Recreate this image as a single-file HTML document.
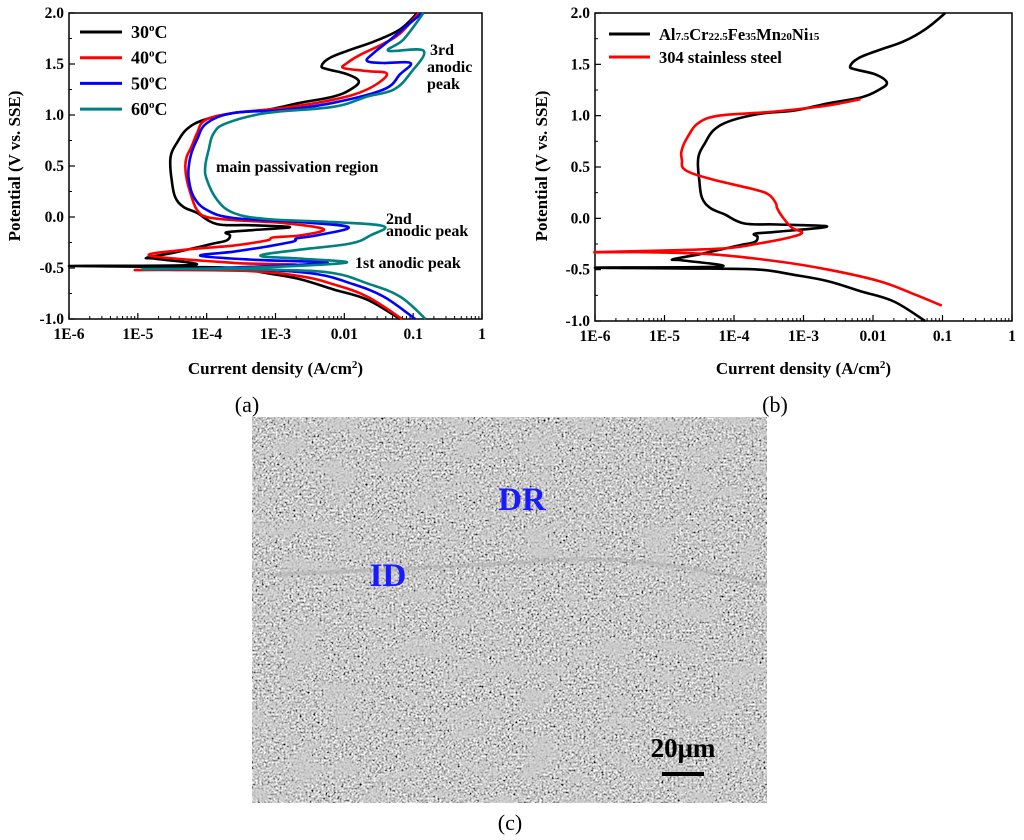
<!DOCTYPE html>
<html><head><meta charset="utf-8"><style>
html,body{margin:0;padding:0;background:#fff;width:1024px;height:840px;overflow:hidden}
svg{position:absolute;left:0;top:0}
text{font-family:"Liberation Serif",serif}
.b{font-weight:bold}
</style></head><body>
<svg id="fig" width="1024" height="840" viewBox="0 0 1024 840">
<defs>
<filter id="sem" x="0" y="0" width="100%" height="100%">
<feTurbulence type="fractalNoise" baseFrequency="0.5" numOctaves="2" seed="7" result="n"/>
<feColorMatrix type="matrix" values="0.33 0.33 0.33 0 0  0.33 0.33 0.33 0 0  0.33 0.33 0.33 0 0  0 0 0 0 1" result="g"/>
<feComponentTransfer><feFuncR type="linear" slope="3.2" intercept="-1.0"/><feFuncG type="linear" slope="3.2" intercept="-1.0"/><feFuncB type="linear" slope="3.2" intercept="-1.0"/></feComponentTransfer>
</filter>
<filter id="blob" x="0" y="0" width="100%" height="100%">
<feTurbulence type="fractalNoise" baseFrequency="0.025 0.05" numOctaves="2" seed="3"/>
<feColorMatrix type="matrix" values="0 0 0 0 0.6  0 0 0 0 0.6  0 0 0 0 0.6  4 0 0 0 -2.0"/>
</filter>
</defs>
<g id="panelA"></g>
<g id="panelB"></g>
<g>
<rect x="252" y="417" width="515" height="386" fill="#9c9c9c" filter="url(#sem)"/>
<rect x="252" y="417" width="515" height="386" filter="url(#blob)" opacity="0.7"/>
<path d="M270 575 Q330 572 380 570 Q480 565 560 560 Q650 555 767 585" stroke="#a8a8a8" stroke-width="4" fill="none" opacity="0.45"/>
<text x="522" y="510" font-size="33" fill="#1a1aff" class="b" text-anchor="middle">DR</text>
<text x="388" y="586" font-size="33" fill="#1a1aff" class="b" text-anchor="middle">ID</text>
<text x="683" y="757" font-size="27" fill="#000" class="b" text-anchor="middle">20μm</text>
<rect x="662" y="772" width="42" height="4" fill="#000"/>
</g>
<text x="510" y="830" font-size="22" text-anchor="middle">(c)</text>
</svg>
<script>
// Panel (a): [log10(I), E] pairs
const curve30 = [[-1.19,-1.0],[-1.67,-0.81],[-2.16,-0.71],[-2.64,-0.61],[-3.13,-0.55],[-3.61,-0.5],[-4.34,-0.49],[-6,-0.48],[-4.19,-0.47],[-4.73,-0.41],[-4.87,-0.4],[-4.48,-0.35],[-4.09,-0.29],[-3.9,-0.26],[-3.71,-0.23],[-3.66,-0.18],[-3.71,-0.15],[-3.37,-0.13],[-2.79,-0.1],[-3.37,-0.08],[-3.85,-0.07],[-4.14,0.04],[-4.34,0.1],[-4.46,0.2],[-4.51,0.37],[-4.53,0.53],[-4.51,0.63],[-4.43,0.73],[-4.29,0.86],[-4.05,0.95],[-3.61,1.02],[-3.13,1.05],[-2.64,1.12],[-2.16,1.18],[-1.91,1.25],[-1.79,1.33],[-1.96,1.4],[-2.25,1.45],[-2.33,1.48],[-2.21,1.56],[-1.91,1.64],[-1.57,1.72],[-1.19,1.84],[-0.94,2.0]];
const curve40 = [[-1.16,-1.0],[-1.67,-0.78],[-2.16,-0.66],[-2.64,-0.58],[-3.37,-0.53],[-4.58,-0.52],[-5.02,-0.52],[-4.0,-0.51],[-2.7,-0.47],[-3.6,-0.45],[-4.82,-0.38],[-4.29,-0.32],[-3.61,-0.28],[-3.13,-0.23],[-3.03,-0.2],[-2.64,-0.18],[-2.3,-0.12],[-2.88,-0.06],[-3.61,-0.03],[-4.0,0.0],[-4.14,0.07],[-4.22,0.2],[-4.29,0.37],[-4.31,0.5],[-4.29,0.59],[-4.22,0.69],[-4.14,0.82],[-4.02,0.95],[-3.61,1.02],[-2.88,1.07],[-2.16,1.15],[-1.67,1.25],[-1.38,1.4],[-1.67,1.43],[-2.01,1.46],[-1.96,1.51],[-1.77,1.59],[-1.43,1.7],[-1.19,1.8],[-0.92,2.0]];
const curve50 = [[-0.97,-1.0],[-1.43,-0.78],[-1.91,-0.65],[-2.4,-0.56],[-3.13,-0.52],[-4.09,-0.51],[-4.7,-0.51],[-3.8,-0.5],[-2.25,-0.45],[-3.3,-0.42],[-4.09,-0.38],[-3.61,-0.34],[-3.13,-0.29],[-2.74,-0.24],[-2.69,-0.21],[-2.4,-0.18],[-1.94,-0.1],[-2.64,-0.05],[-3.61,-0.01],[-4.0,0.07],[-4.19,0.2],[-4.26,0.37],[-4.26,0.5],[-4.22,0.63],[-4.14,0.76],[-4.0,0.92],[-3.61,1.02],[-2.88,1.05],[-2.16,1.12],[-1.43,1.25],[-1.19,1.4],[-1.04,1.51],[-1.43,1.51],[-1.67,1.53],[-1.57,1.61],[-1.33,1.74],[-0.87,2.0]];
const curve60 = [[-0.82,-1.0],[-1.19,-0.78],[-1.67,-0.65],[-2.16,-0.55],[-2.88,-0.52],[-4.09,-0.51],[-4.92,-0.51],[-3.5,-0.5],[-1.99,-0.45],[-2.6,-0.41],[-3.22,-0.38],[-2.64,-0.32],[-1.91,-0.26],[-1.62,-0.18],[-1.43,-0.09],[-2.16,-0.05],[-3.13,-0.02],[-3.61,0.04],[-3.85,0.17],[-4.0,0.37],[-4.02,0.5],[-3.97,0.66],[-3.9,0.82],[-3.71,0.92],[-3.13,1.02],[-2.16,1.08],[-1.67,1.18],[-1.28,1.25],[-1.04,1.41],[-0.85,1.63],[-1.36,1.63],[-1.14,1.74],[-0.85,2.0]];
// Panel (b)
const curveAlloy = [[-1.25,-1.0],[-1.7,-0.81],[-2.18,-0.71],[-2.66,-0.61],[-3.14,-0.55],[-3.62,-0.5],[-4.35,-0.49],[-6,-0.48],[-4.2,-0.47],[-4.74,-0.41],[-4.88,-0.4],[-4.5,-0.35],[-4.1,-0.29],[-3.9,-0.26],[-3.7,-0.23],[-3.66,-0.18],[-3.7,-0.15],[-3.37,-0.13],[-2.66,-0.08],[-3.37,-0.06],[-3.85,-0.05],[-4.14,0.04],[-4.34,0.1],[-4.46,0.2],[-4.5,0.37],[-4.52,0.53],[-4.5,0.63],[-4.42,0.73],[-4.29,0.86],[-4.05,0.95],[-3.61,1.02],[-3.13,1.05],[-2.64,1.12],[-2.16,1.18],[-1.92,1.25],[-1.8,1.32],[-1.96,1.4],[-2.25,1.45],[-2.33,1.48],[-2.21,1.56],[-1.91,1.64],[-1.57,1.72],[-1.25,1.84],[-0.96,2.0]];
const curve304 = [[-1.01,-0.85],[-1.44,-0.73],[-1.92,-0.61],[-2.64,-0.5],[-3.36,-0.42],[-4.32,-0.35],[-5.28,-0.33],[-6,-0.33],[-4.8,-0.31],[-4.08,-0.29],[-3.6,-0.24],[-3.22,-0.19],[-3.02,-0.14],[-3.17,-0.09],[-3.31,0.02],[-3.38,0.1],[-3.4,0.15],[-3.5,0.23],[-3.7,0.28],[-4.32,0.38],[-4.7,0.47],[-4.75,0.57],[-4.75,0.67],[-4.66,0.8],[-4.51,0.93],[-4.22,1.0],[-3.6,1.03],[-3.12,1.06],[-2.64,1.1],[-2.18,1.16]];
const xTickLabels = ["1E-6","1E-5","1E-4","1E-3","0.01","0.1","1"];
const yTicks = [-1.0,-0.5,0.0,0.5,1.0,1.5,2.0];

const NS="http://www.w3.org/2000/svg";
function mk(parent,tag,attrs){const e=document.createElementNS(NS,tag);for(const k in attrs)e.setAttribute(k,attrs[k]);parent.appendChild(e);return e;}

function smooth(pts){
  if(pts.length<3)return pts.map((p,i)=>(i?'L':'M')+p[0].toFixed(1)+' '+p[1].toFixed(1)).join(' ');
  let d='M'+pts[0][0].toFixed(1)+' '+pts[0][1].toFixed(1);
  const k=0.18;
  for(let i=0;i<pts.length-1;i++){
    const p0=pts[Math.max(0,i-1)],p1=pts[i],p2=pts[i+1],p3=pts[Math.min(pts.length-1,i+2)];
    const c1=[p1[0]+(p2[0]-p0[0])*k,p1[1]+(p2[1]-p0[1])*k];
    const c2=[p2[0]-(p3[0]-p1[0])*k,p2[1]-(p3[1]-p1[1])*k];
    d+=` C${c1[0].toFixed(1)} ${c1[1].toFixed(1)} ${c2[0].toFixed(1)} ${c2[1].toFixed(1)} ${p2[0].toFixed(1)} ${p2[1].toFixed(1)}`;
  }
  return d;
}

function panel(g,L,R,T,B,series,opt){
  const xs=v=>L+(v+6)/6*(R-L);
  const ys=v=>B-(v+1)/3*(B-T);
  let f=mk(g,'rect',{x:L,y:T,width:R-L,height:B-T,fill:'none',stroke:'#000','stroke-width':1.5});
  
  
  for(let d=-6;d<=0;d++){
    let t=mk(g,'line',{x1:xs(d),x2:xs(d),y1:B,y2:B-6,stroke:'#000','stroke-width':1.2});
    
    
    if(d<0)for(let m=2;m<=9;m++){const xv=xs(d+Math.log10(m));
      let mt=mk(g,'line',{x1:xv,x2:xv,y1:B,y2:B-3,stroke:'#000','stroke-width':1});
      
      }
    let lb=mk(g,'text',{x:xs(d),y:B+20,'font-size':15.5,'text-anchor':'middle',class:'b'});
    lb.textContent=xTickLabels[d+6];
    
    
  }
  yTicks.forEach((v,i)=>{
    let t=mk(g,'line',{x1:L,x2:L+6,y1:ys(v),y2:ys(v),stroke:'#000','stroke-width':1.2});
    
    
    if(i<yTicks.length-1){let mt=mk(g,'line',{x1:L,x2:L+3,y1:ys(v+0.25),y2:ys(v+0.25),stroke:'#000','stroke-width':1});
      
      }
    let lb=mk(g,'text',{x:L-5,y:ys(v)+5,'font-size':15.5,'text-anchor':'end',class:'b'});
    lb.textContent=v.toFixed(1);
    
    
  });
  let xt=mk(g,'text',{x:(L+R)/2,y:374,'font-size':17,'text-anchor':'middle',class:'b'});
  xt.innerHTML='Current density (A/cm<tspan dy="-6" font-size="11">2</tspan><tspan dy="6">)</tspan>';
  
  
  let yt=mk(g,'text',{x:0,y:0,'font-size':17,'text-anchor':'middle',class:'b',transform:`translate(${opt.ytx},166) rotate(-90)`});
  yt.textContent='Potential (V vs. SSE)';
  
  
  series.forEach(s=>{
    const pts=s.data.map(p=>[xs(p[0]),ys(p[1])]);
    let p=mk(g,'path',{d:smooth(pts),fill:'none',stroke:s.color,'stroke-width':2.6,'stroke-linejoin':'round'});
    
    
  });
}
const A=document.getElementById('panelA'),Bp=document.getElementById('panelB');
panel(A,69,482,13,319,[
 {data:curve30,color:'#000',name:'series-30c'},{data:curve40,color:'#ff0000',name:'series-40c'},
 {data:curve50,color:'#0000ff',name:'series-50c'},{data:curve60,color:'#008080',name:'series-60c'}],{ytx:20});
panel(Bp,595,1012,13,321,[
 {data:curveAlloy,color:'#000',name:'series-alloy'},{data:curve304,color:'#ff0000',name:'series-304ss'}],{ytx:547});

// legends
const legA=[['#000','30'],['#ff0000','40'],['#0000ff','50'],['#008080','60']];
legA.forEach((l,i)=>{const y=32+i*25.7;
  let ln=mk(A,'line',{x1:80,x2:122,y1:y,y2:y,stroke:l[0],'stroke-width':3});
  
  
  let t=mk(A,'text',{x:131,y:y+6,'font-size':18,class:'b'});
  t.innerHTML=l[1]+'<tspan dy="-7" font-size="11">o</tspan><tspan dy="7">C</tspan>';
  
  
});
const legB=[['#000','Al<tspan font-size="11">7.5</tspan>Cr<tspan font-size="11">22.5</tspan>Fe<tspan font-size="11">35</tspan>Mn<tspan font-size="11">20</tspan>Ni<tspan font-size="11">15</tspan>'],['#ff0000','304 stainless steel']];
legB.forEach((l,i)=>{const y=34+i*23;
  let ln=mk(Bp,'line',{x1:609,x2:650,y1:y,y2:y,stroke:l[0],'stroke-width':3});
  
  
  let t=mk(Bp,'text',{x:659,y:y+6,'font-size':16.5,class:'b'});
  t.innerHTML=l[1];
  
  
});
// annotations
const ann=[['3rd',430,55],['anodic',427,72],['peak',427,89],['main passivation region',216,172],['2nd',386,224],['anodic peak',386,236],['1st anodic peak',355,268]];
ann.forEach(a=>{let t=mk(A,'text',{x:a[1],y:a[2],'font-size':16,class:'b'});t.textContent=a[0];
  
  });
let ca=mk(A,'text',{x:247,y:412,'font-size':22,'text-anchor':'middle'});ca.textContent='(a)';


let cb=mk(Bp,'text',{x:775,y:412,'font-size':22,'text-anchor':'middle'});cb.textContent='(b)';


</script>
</body></html>
